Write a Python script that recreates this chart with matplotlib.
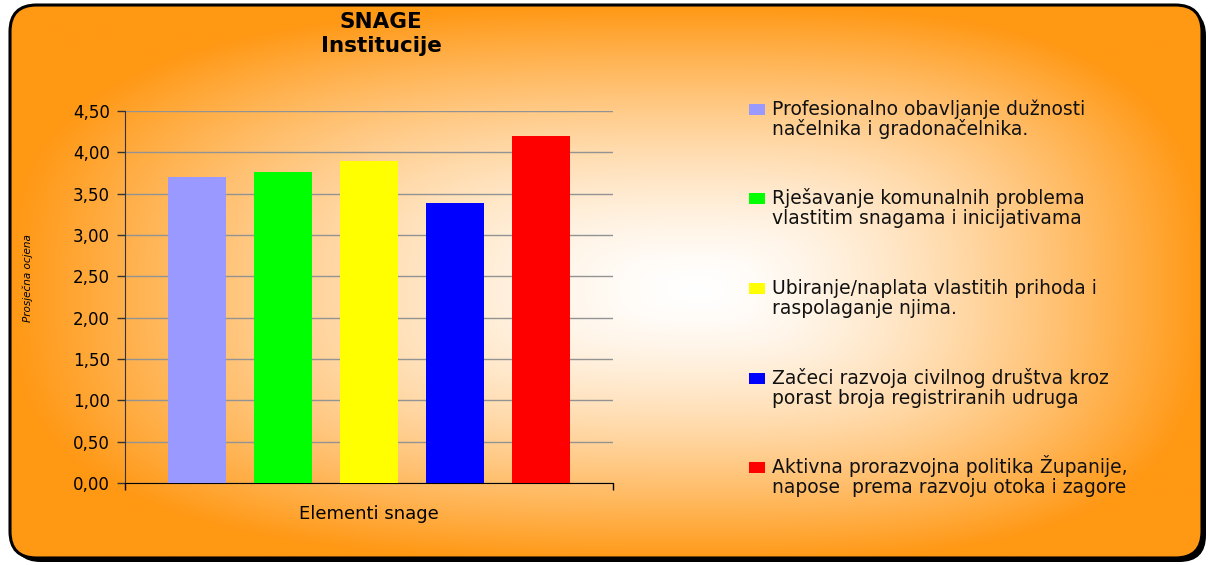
import numpy as np
import matplotlib
matplotlib.use("Agg")
import matplotlib.pyplot as plt
from matplotlib.patches import FancyBboxPatch, Rectangle

# average ratings per element
labels = [
    "Profesionalno obavljanje dužnosti\nnačelnika i gradonačelnika.",
    "Rješavanje komunalnih problema\nvlastitim snagama i inicijativama",
    "Ubiranje/naplata vlastitih prihoda i\nraspolaganje njima.",
    "Začeci razvoja civilnog društva kroz\nporast broja registriranih udruga",
    "Aktivna prorazvojna politika Županije,\nnapose  prema razvoju otoka i zagore",
]
values = [3.70, 3.76, 3.89, 3.39, 4.20]
colors = ["#9999FF", "#00FF00", "#FFFF00", "#0000FF", "#FF0000"]
yticks = [0.0, 0.5, 1.0, 1.5, 2.0, 2.5, 3.0, 3.5, 4.0, 4.5]

W, H = 1210, 565
fig = plt.figure(figsize=(W / 100, H / 100), dpi=100)
fig.patch.set_facecolor("white")


def rounded(box, **kw):
    return FancyBboxPatch(box[:2], box[2], box[3],
                          boxstyle="round,pad=0,rounding_size=0.022", mutation_aspect=W / H,
                          transform=fig.transFigure, **kw)


# rounded frame with a dark drop shadow
frame_box = (10 / W, 7 / H, 1192 / W, 553 / H)
shadow = rounded((frame_box[0] + 4 / W, frame_box[1] - 4 / H, frame_box[2], frame_box[3]),
                 facecolor="black", edgecolor="none", zorder=-5)
frame = rounded(frame_box, facecolor="none", edgecolor="black", linewidth=2.2, zorder=3)
fig.patches.extend([shadow, frame])

# orange background fading to white towards the middle (rectangular path gradient)
bg = fig.add_axes([0, 0, 1, 1], zorder=1)
bg.set_axis_off()
bg.patch.set_alpha(0)
gx, gy = np.meshgrid(np.linspace(0, W, 400), np.linspace(0, H, 200))
cx, cy = 700, 290
dx = np.where(gx < cx, (cx - gx) / 690, (gx - cx) / 505)
dy = np.where(gy < cy, (cy - gy) / 285, (gy - cy) / 272)
t = np.clip((dx ** 3 + dy ** 3) ** (1 / 3), 0, 1) ** 1.5
orange = np.array([255, 152, 20]) / 255
rgb = 1 - t[..., None] * (1 - orange)
img = bg.imshow(rgb, extent=[0, 1, 0, 1], origin="upper", aspect="auto",
                transform=fig.transFigure)
img.set_clip_path(rounded(frame_box, facecolor="none", edgecolor="none"))

# bar chart
ax = fig.add_axes([125 / W, 1 - 483 / H, 488 / W, 372 / H], zorder=2)
ax.patch.set_alpha(0)
x = np.arange(len(values))
ax.bar(x, values, width=0.68, color=colors, zorder=3)
ax.set_xlim(-0.84, 4.84)
ax.set_ylim(0, 4.5)
ax.set_yticks(yticks)
ax.set_yticklabels([f"{v:.2f}".replace(".", ",") for v in yticks], fontsize=12)
ax.yaxis.grid(True, color="#939393", linewidth=1.0, zorder=1)
ax.set_axisbelow(True)
ax.set_xticks([ax.get_xlim()[0], ax.get_xlim()[1]])
ax.set_xticklabels([])
ax.tick_params(axis="x", direction="out", length=5, width=1, color="black")
ax.tick_params(axis="y", direction="out", length=6, width=1, color="#333333", pad=5)
for side in ("top", "right"):
    ax.spines[side].set_visible(False)
ax.spines["left"].set_color("#333333")
ax.spines["bottom"].set_color("black")
ax.set_xlabel("Elementi snage", fontsize=13, labelpad=7)
ax.set_ylabel("Prosječna ocjena", fontsize=7.5, style="italic")
ax.yaxis.set_label_coords(-92 / 488, 0.55)

fig.text(381 / W, 1 - 22 / H, "SNAGE", ha="center", va="center",
         fontsize=15.5, fontweight="bold", zorder=4)
fig.text(381 / W, 1 - 46 / H, "Institucije", ha="center", va="center",
         fontsize=15.5, fontweight="bold", zorder=4)

# legend entries on the right, one text per line for even spacing
for i, (label, color) in enumerate(zip(labels, colors)):
    base = 115 + i * 89.5
    fig.patches.append(Rectangle((749 / W, 1 - base / H), 16 / W, 11 / H,
                                 transform=fig.transFigure, facecolor=color,
                                 edgecolor="none", zorder=4))
    for j, line in enumerate(label.split("\n")):
        fig.text(772 / W, 1 - (base + 20 * j) / H, line, ha="left", va="baseline",
                 fontsize=13.5, color="#111111", zorder=4)

fig.savefig("out.png", dpi=100)
